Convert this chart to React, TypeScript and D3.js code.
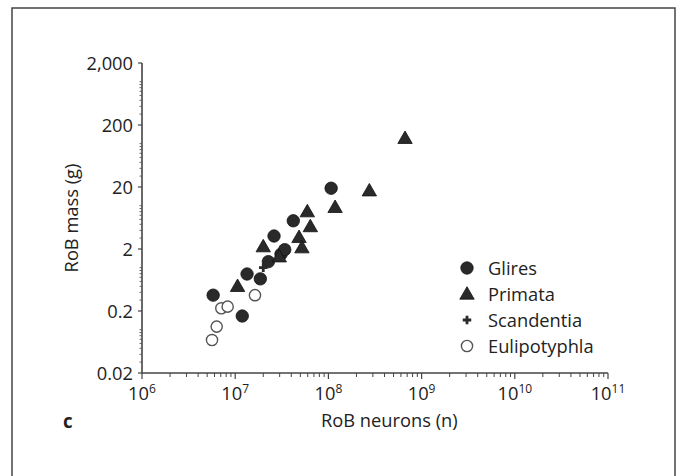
import React from "react";
import * as d3 from "d3";

const glires: [number, number][] = [
  [5.8e6, 0.36], [1.19e7, 0.166], [1.34e7, 0.79], [1.86e7, 0.66], [2.27e7, 1.25],
  [2.61e7, 3.24], [3.1e7, 1.65], [3.4e7, 1.95], [4.2e7, 5.7], [1.07e8, 19.1],
];
const primata: [number, number][] = [
  [1.06e7, 0.5], [2.0e7, 2.18], [2.97e7, 1.5], [4.84e7, 3.08], [5.2e7, 2.1],
  [5.94e7, 8.0], [6.4e7, 4.6], [1.18e8, 9.4], [2.75e8, 17.4], [6.64e8, 122],
];
const scandentia: [number, number][] = [[2.0e7, 1.0]];
const eulipotyphla: [number, number][] = [
  [5.64e6, 0.068], [6.33e6, 0.112], [7.1e6, 0.221], [8.3e6, 0.235], [1.63e7, 0.36],
];
const yTickLabels = ["0.02", "0.2", "2", "20", "200", "2,000"];
const yTickValues = [0.02, 0.2, 2, 20, 200, 2000];
const xTickExps = [6, 7, 8, 9, 10, 11];
const legendItems = ["Glires", "Primata", "Scandentia", "Eulipotyphla"];

const FONT = "'Open Sans', 'Noto Sans', sans-serif";
const INK = "#2a2a2a";
const FS = 18.3;

export default function App() {
  const x = d3.scaleLog().domain([1e6, 1e11]).range([142, 608]);
  const y = d3.scaleLog().domain([0.02, 2000]).range([373, 63]);

  const xMinor: number[] = [];
  for (let e = 6; e < 11; e++) for (let k = 2; k <= 9; k++) xMinor.push(k * Math.pow(10, e));
  const yMinor: number[] = [];
  for (let e = -2; e <= 3; e++)
    for (let k = 1; k <= 9; k++) {
      const v = k * Math.pow(10, e);
      if (v >= 0.02 && v <= 2000 && !yTickValues.some((t) => Math.abs(t - v) < 1e-9)) yMinor.push(v);
    }

  const tri = d3.symbol().type(d3.symbolTriangle).size(90)()!;
  const cross = d3.symbol().type(d3.symbolCross).size(40)()!;

  const circ = (p: [number, number], i: number) => (
    <circle key={i} cx={x(p[0])} cy={y(p[1])} r={6.2} fill={INK} stroke="#111" strokeWidth={0.8} />
  );
  const open = (p: [number, number], i: number) => (
    <circle key={i} cx={x(p[0])} cy={y(p[1])} r={5.6} fill="white" stroke="#555" strokeWidth={1.4} />
  );
  const triM = (p: [number, number], i: number) => (
    <path key={i} d={tri} transform={`translate(${x(p[0])},${y(p[1]) + 1})`} fill={INK} stroke="#111" strokeWidth={0.8} />
  );
  const crossM = (p: [number, number], i: number) => (
    <path key={i} d={cross} transform={`translate(${x(p[0])},${y(p[1])})`} fill={INK} />
  );

  const legY = [268, 294, 320, 346];
  const legX = 467;

  return (
    <svg width={678} height={476} style={{ position: "absolute", left: 0, top: 0, background: "white" }} fontFamily={FONT}>
      <rect x={0} y={0} width={678} height={476} fill="white" />
      <path d="M12,476 V8 H675 V476" fill="none" stroke="#444" strokeWidth={1.5} />

      {/* axes */}
      <line x1={142} y1={63} x2={142} y2={373} stroke="#444" strokeWidth={1.6} />
      <line x1={142} y1={373} x2={608} y2={373} stroke="#444" strokeWidth={1.6} />
      {xMinor.map((v, i) => (
        <line key={i} x1={x(v)} x2={x(v)} y1={373} y2={377} stroke="#444" strokeWidth={1} />
      ))}
      {xTickExps.map((e) => (
        <line key={e} x1={x(Math.pow(10, e))} x2={x(Math.pow(10, e))} y1={373} y2={379} stroke="#444" strokeWidth={1.2} />
      ))}
      {yMinor.map((v, i) => (
        <line key={i} x1={142} x2={139.5} y1={y(v)} y2={y(v)} stroke="#555" strokeWidth={0.9} />
      ))}
      {yTickValues.map((v) => (
        <line key={v} x1={142} x2={138} y1={y(v)} y2={y(v)} stroke="#444" strokeWidth={1.2} />
      ))}

      {yTickValues.map((v, i) => (
        <text key={v} x={133} y={y(v)} dy="0.36em" textAnchor="end" fontSize={FS} fill="#222">
          {yTickLabels[i]}
        </text>
      ))}
      {xTickExps.map((e) => (
        <text key={e} x={x(Math.pow(10, e))} y={400} textAnchor="middle" fontSize={FS} fill="#222">
          10
          <tspan fontSize={12} dy={-7}>{e}</tspan>
        </text>
      ))}

      <text x={321} y={427} fontSize={FS} fill="#222">RoB neurons (n)</text>
      <text transform="translate(78,218) rotate(-90)" textAnchor="middle" fontSize={FS} fill="#222">RoB mass (g)</text>
      <text x={63} y={428} fontSize={18.7} fontWeight="bold" fill="#222">c</text>

      {/* data */}
      <g>{eulipotyphla.map(open)}</g>
      <g>{glires.map(circ)}</g>
      <g>{primata.map(triM)}</g>
      <g>{scandentia.map(crossM)}</g>

      {/* legend */}
      <circle cx={legX} cy={legY[0]} r={6.2} fill={INK} stroke="#111" strokeWidth={0.8} />
      <path d={tri} transform={`translate(${legX},${legY[1] + 1})`} fill={INK} stroke="#111" strokeWidth={0.8} />
      <path d={cross} transform={`translate(${legX},${legY[2]})`} fill={INK} />
      <circle cx={legX} cy={legY[3]} r={5.6} fill="white" stroke="#555" strokeWidth={1.4} />
      {legendItems.map((t, i) => (
        <text key={t} x={488} y={legY[i]} dy="0.36em" fontSize={FS} fill="#222">{t}</text>
      ))}
    </svg>
  );
}
